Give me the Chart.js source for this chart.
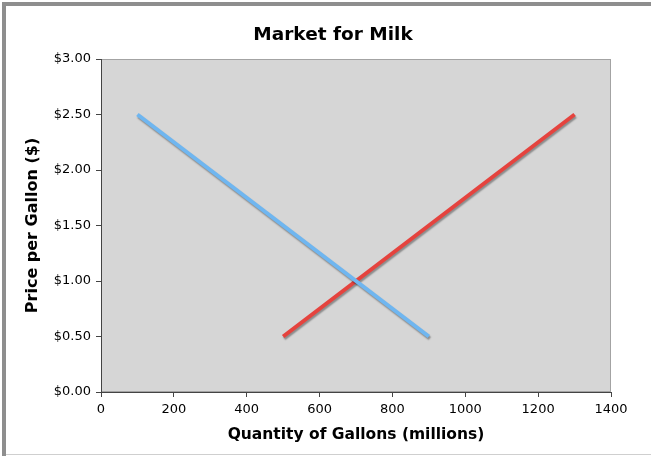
<!DOCTYPE html>
<html>
<head>
<meta charset="utf-8">
<script src="https://cdn.jsdelivr.net/npm/chart.js@4/dist/chart.umd.min.js"></script>
<style>
  html, body { margin: 0; padding: 0; background: #ffffff; }
  #wrap { width: 651px; height: 456px; position: relative; }
</style>
</head>
<body>
<div id="wrap"><canvas id="c" width="651" height="456"></canvas></div>
<script>
// ---- Data ----
const chartTitle = "Market for Milk";
const xAxisTitle = "Quantity of Gallons (millions)";
const yAxisTitle = "Price per Gallon ($)";
const demandQty = [100, 900];
const demandPrice = [2.50, 0.50];
const supplyQty = [500, 1300];
const supplyPrice = [0.50, 2.50];
const xTicks = [0, 200, 400, 600, 800, 1000, 1200, 1400];
const yTicks = [0, 0.5, 1, 1.5, 2, 2.5, 3];

const toPoints = (xs, ys) => xs.map((x, i) => ({x: x, y: ys[i]}));

const framePlugin = {
  id: 'frame',
  beforeDraw(chart) {
    const ctx = chart.ctx;
    const a = chart.chartArea;
    ctx.save();
    ctx.fillStyle = '#ffffff';
    ctx.fillRect(0, 0, chart.width, chart.height);
    // outer frame
    ctx.fillStyle = '#8e8e8e';
    ctx.fillRect(2, 2, chart.width - 2, 4);
    ctx.fillRect(2, 2, 4, chart.height - 2);
    ctx.fillStyle = '#cfcfcf';
    ctx.fillRect(6, chart.height - 2, chart.width - 6, 1);
    // plot background
    ctx.fillStyle = '#d6d6d6';
    ctx.fillRect(a.left, a.top, a.right - a.left, a.bottom - a.top);
    ctx.strokeStyle = '#a3a3a3';
    ctx.lineWidth = 1;
    ctx.strokeRect(a.left + 0.5, a.top + 0.5, a.right - a.left - 1, a.bottom - a.top - 1);
    // chart title
    ctx.fillStyle = '#000000';
    ctx.font = 'bold 18.5px "DejaVu Sans"';
    ctx.textAlign = 'center';
    ctx.textBaseline = 'middle';
    ctx.fillText(chartTitle, 333, 35);
    ctx.restore();
  },
  beforeDatasetsDraw(chart) {
    const ctx = chart.ctx;
    ctx.save();
    ctx.shadowColor = 'rgba(0,0,0,0.35)';
    ctx.shadowOffsetX = 1;
    ctx.shadowOffsetY = 2;
    ctx.shadowBlur = 1.5;
  },
  afterDatasetsDraw(chart) {
    chart.ctx.restore();
  }
};

new Chart(document.getElementById('c'), {
  type: 'scatter',
  data: {
    datasets: [
      {
        label: 'Demand',
        data: toPoints(demandQty, demandPrice),
        showLine: true,
        borderColor: '#6fb6f0',
        borderWidth: 4,
        pointRadius: 0,
        fill: false
      },
      {
        label: 'Supply',
        data: toPoints(supplyQty, supplyPrice),
        showLine: true,
        borderColor: '#e5433e',
        borderWidth: 4,
        pointRadius: 0,
        fill: false
      }
    ]
  },
  options: {
    responsive: false,
    animation: false,
    devicePixelRatio: 1,
    layout: { padding: { left: 14, right: 40, top: 59, bottom: 6 } },
    plugins: {
      legend: { display: false },
      tooltip: { enabled: false },
      title: { display: false }
    },
    scales: {
      x: {
        type: 'linear',
        min: 0, max: 1400,
        afterFit(scale) { scale.height = 58; },
        afterBuildTicks(scale) { scale.ticks = xTicks.map(v => ({value: v})); },
        ticks: {
          color: '#000000',
          font: { family: 'DejaVu Sans', size: 13 },
          padding: 5,
          maxRotation: 0,
          autoSkip: false,
          callback: (v) => String(v)
        },
        grid: { display: true, drawOnChartArea: false, drawTicks: true, tickLength: 5, color: '#444444' },
        border: { display: true, color: '#444444', width: 1 },
        title: {
          display: true,
          text: xAxisTitle,
          color: '#000000',
          font: { family: 'DejaVu Sans', size: 15.5, weight: 'bold' },
          padding: { top: 0, bottom: 6 }
        }
      },
      y: {
        type: 'linear',
        min: 0, max: 3,
        afterFit(scale) { scale.width = 87; },
        afterBuildTicks(scale) { scale.ticks = yTicks.map(v => ({value: v})); },
        ticks: {
          color: '#000000',
          font: { family: 'DejaVu Sans', size: 13 },
          padding: 5,
          autoSkip: false,
          callback: (v) => '$' + Number(v).toFixed(2)
        },
        grid: { display: true, drawOnChartArea: false, drawTicks: true, tickLength: 5, color: '#444444' },
        border: { display: true, color: '#444444', width: 1 },
        title: {
          display: true,
          text: yAxisTitle,
          color: '#000000',
          font: { family: 'DejaVu Sans', size: 16, weight: 'bold' },
          padding: { top: 9.5, bottom: 0 }
        }
      }
    }
  },
  plugins: [framePlugin]
});
</script>
</body>
</html>
